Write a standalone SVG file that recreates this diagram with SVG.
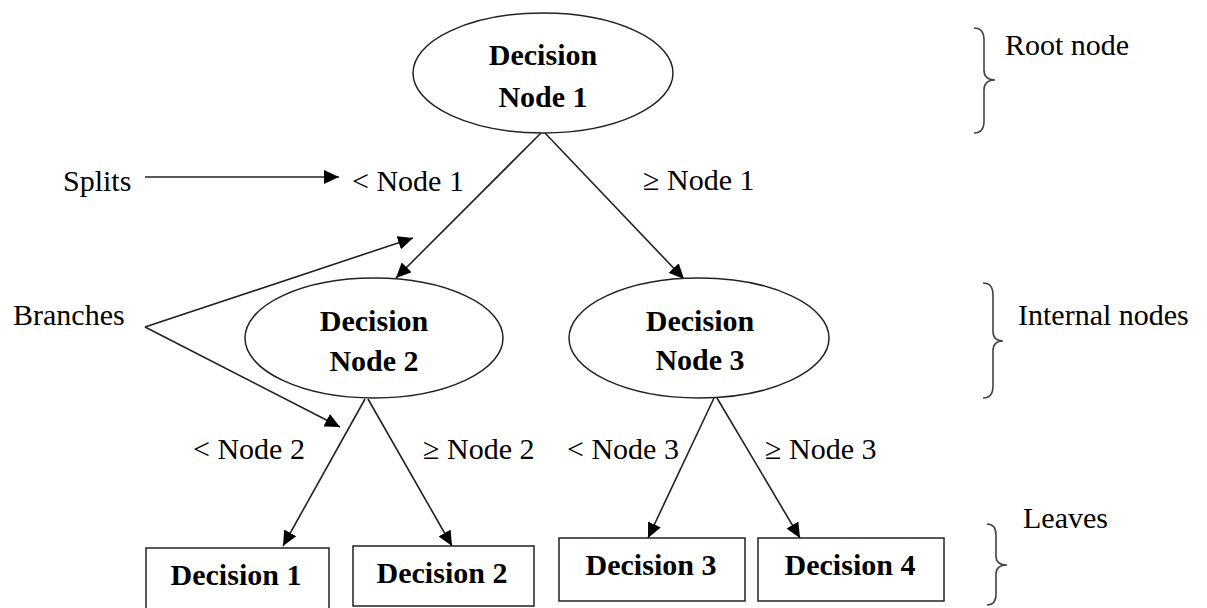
<svg xmlns="http://www.w3.org/2000/svg" width="1207" height="608" viewBox="0 0 1207 608">
<style>
.bg{fill:#ffffff}
.shape{fill:#ffffff;stroke:#222;stroke-width:1.5}
.edge{fill:none;stroke:#222;stroke-width:1.6}
.brace{fill:none;stroke:#444;stroke-width:1.6}
.nt{font-family:"Liberation Serif","Times New Roman",serif;font-size:30px;font-weight:bold;fill:#000;text-anchor:middle}
.lt{font-family:"Liberation Serif","Times New Roman",serif;font-size:30px;fill:#000}
</style>
<defs>
<marker id="ah" markerUnits="userSpaceOnUse" markerWidth="16" markerHeight="14" refX="15" refY="7" orient="auto">
<path d="M0,0 L15,7 L0,14 z" fill="#000"/>
</marker>
</defs>
<rect class="bg" x="0" y="0" width="1207" height="608"/>

<g id="connectors">
<line class="edge" x1="145" y1="177" x2="339" y2="177" marker-end="url(#ah)"/>
<line class="edge" x1="145" y1="327" x2="413" y2="238" marker-end="url(#ah)"/>
<line class="edge" x1="145" y1="327" x2="340" y2="427" marker-end="url(#ah)"/>
<line class="edge" x1="541" y1="133" x2="396" y2="278" marker-end="url(#ah)"/>
<line class="edge" x1="545" y1="133" x2="684" y2="279" marker-end="url(#ah)"/>
<line class="edge" x1="365" y1="399" x2="283" y2="546" marker-end="url(#ah)"/>
<line class="edge" x1="368" y1="399" x2="452" y2="546" marker-end="url(#ah)"/>
<line class="edge" x1="714" y1="398" x2="648" y2="538" marker-end="url(#ah)"/>
<line class="edge" x1="717" y1="398" x2="800" y2="538" marker-end="url(#ah)"/>
</g>

<g id="node1">
<ellipse class="shape" cx="543" cy="73" rx="130" ry="60"/>
<text class="nt" x="543" y="65">Decision</text>
<text class="nt" x="543" y="107">Node 1</text>
</g>
<g id="node2">
<ellipse class="shape" cx="374" cy="338" rx="129" ry="60"/>
<text class="nt" x="374" y="331">Decision</text>
<text class="nt" x="374" y="371">Node 2</text>
</g>
<g id="node3">
<ellipse class="shape" cx="699" cy="338" rx="130" ry="60"/>
<text class="nt" x="700" y="331">Decision</text>
<text class="nt" x="700" y="370">Node 3</text>
</g>
<g id="leaf1">
<rect class="shape" x="146" y="548" width="183" height="64"/>
<text class="nt" x="236" y="585">Decision 1</text>
</g>
<g id="leaf2">
<rect class="shape" x="353" y="546" width="181" height="60"/>
<text class="nt" x="442" y="583">Decision 2</text>
</g>
<g id="leaf3">
<rect class="shape" x="559" y="538" width="186" height="63"/>
<text class="nt" x="651" y="575">Decision 3</text>
</g>
<g id="leaf4">
<rect class="shape" x="758" y="538" width="186" height="63"/>
<text class="nt" x="850" y="575">Decision 4</text>
</g>

<g id="labels">
<text class="lt" x="63" y="191">Splits</text>
<text class="lt" x="352" y="191">&lt; Node 1</text>
<text class="lt" x="643" y="190">≥ Node 1</text>
<text class="lt" x="13" y="325">Branches</text>
<text class="lt" x="193" y="459">&lt; Node 2</text>
<text class="lt" x="423" y="459">≥ Node 2</text>
<text class="lt" x="567" y="459">&lt; Node 3</text>
<text class="lt" x="765" y="459">≥ Node 3</text>
</g>

<g id="braces">
<path class="brace" d="M974,28 Q984,28 984,40 L984,70 Q984,80 995,80 Q984,80 984,90 L984,121 Q984,133 974,133"/>
<text class="lt" x="1005" y="55">Root node</text>
<path class="brace" d="M983,283 Q993,283 993,295 L993,331 Q993,341 1003,341 Q993,341 993,351 L993,386 Q993,398 983,398"/>
<text class="lt" x="1018" y="325">Internal nodes</text>
<path class="brace" d="M987,524 Q996,524 996,535 L996,556 Q996,565 1007,565 Q996,565 996,574 L996,594 Q996,605 987,605"/>
<text class="lt" x="1023" y="528">Leaves</text>
</g>
</svg>
